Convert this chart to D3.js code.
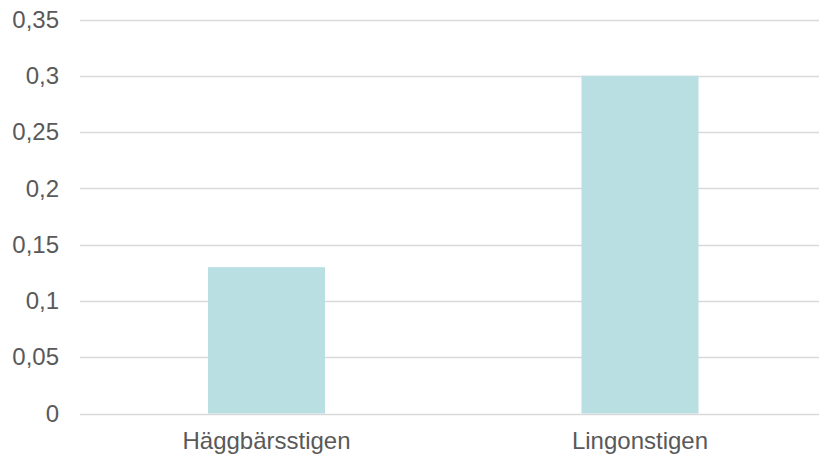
<!DOCTYPE html>
<html>
<head>
<meta charset="utf-8">
<script src="https://cdn.jsdelivr.net/npm/d3@7"></script>
<style>
  body { margin: 0; background: #fff; }
  .tick text { font-family: "Liberation Sans", Arial, sans-serif; fill: #595959; }
</style>
</head>
<body>
<div class="chart"></div>
<script>
// Chart data
var categories = ["Häggbärsstigen", "Lingonstigen"];
var values = [0.13, 0.3];
var yTicks = [0, 0.05, 0.1, 0.15, 0.2, 0.25, 0.3, 0.35];

var svgWidth = 819;
var svgHeight = 454;
var fmt = function(d) { return String(d).replace(".", ","); };

var svg = d3.select(".chart")
  .append("svg")
  .attr("width", svgWidth)
  .attr("height", svgHeight);

// scales
var x = d3.scaleBand()
  .domain(categories)
  .range([79.75, 826.75])
  .paddingInner(0.6867)
  .paddingOuter(0.6867 / 2);

var y = d3.scaleLinear()
  .domain([0, 0.35])
  .range([413.5, 19.5]);

// gridlines
svg.append("g")
  .selectAll("line")
  .data(yTicks)
  .enter()
  .append("line")
  .attr("x1", 80)
  .attr("x2", 827)
  .attr("y1", function(d) { return Math.round(y(d)) + 0.5; })
  .attr("y2", function(d) { return Math.round(y(d)) + 0.5; })
  .attr("stroke", "#d9d9d9")
  .attr("stroke-width", 1.3);

// bars
svg.append("g")
  .selectAll("rect")
  .data(values)
  .enter()
  .append("rect")
  .attr("x", function(d, i) { return x(categories[i]); })
  .attr("width", x.bandwidth())
  .attr("y", function(d) { return y(d); })
  .attr("height", function(d) { return y(0) - y(d); })
  .attr("fill", "#b9dfe2");

// y axis labels
var leftAxis = d3.axisLeft(y)
  .tickValues(yTicks)
  .tickFormat(fmt)
  .tickSize(0)
  .tickPadding(0);

svg.append("g")
  .attr("transform", "translate(59,0)")
  .call(leftAxis)
  .call(function(g) { g.select(".domain").remove(); })
  .selectAll("text")
  .style("font-size", "24px");

// x axis labels
var bottomAxis = d3.axisBottom(x).tickSize(0).tickPadding(0);

svg.append("g")
  .attr("transform", "translate(0,448.5)")
  .call(bottomAxis)
  .call(function(g) { g.select(".domain").remove(); })
  .selectAll("text")
  .attr("dy", "0")
  .style("font-size", "24px");
</script>
</body>
</html>
